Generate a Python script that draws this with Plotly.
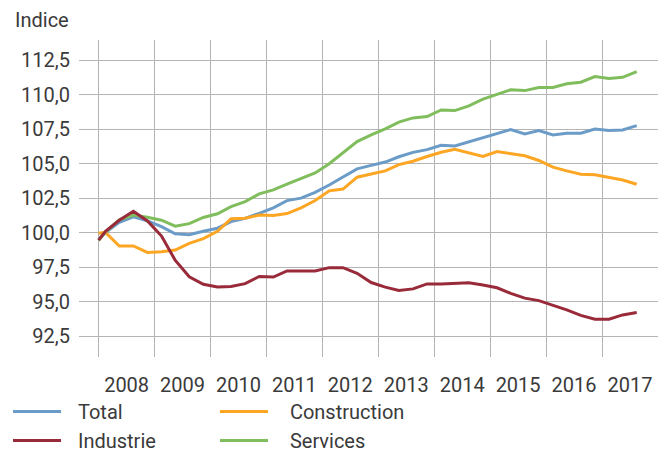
import plotly.graph_objects as go

# Quarterly observations (first value at start of 2008, then mid-quarter)
periods = ["2008-01-01"] + [f"{y}-{m:02d}-15" for y in range(2008, 2018) for m in (2, 5, 8, 11)][:39]

total = [99.5, 100.0, 100.75, 101.15, 100.85, 100.44, 99.92, 99.85, 100.1, 100.32,
         100.8, 101.04, 101.4, 101.8, 102.32, 102.5, 102.92, 103.45, 104.04, 104.62,
         104.88, 105.12, 105.5, 105.82, 106.02, 106.33, 106.29, 106.6, 106.92, 107.21,
         107.48, 107.16, 107.4, 107.09, 107.21, 107.21, 107.51, 107.4, 107.45, 107.76]
industrie = [99.45, 100.1, 100.9, 101.55, 100.85, 99.75, 98.0, 96.8, 96.25, 96.05,
             96.1, 96.3, 96.82, 96.78, 97.22, 97.22, 97.22, 97.46, 97.46, 97.05,
             96.38, 96.05, 95.8, 95.92, 96.28, 96.28, 96.3, 96.37, 96.2, 96.0,
             95.6, 95.25, 95.07, 94.75, 94.4, 94.0, 93.72, 93.72, 94.03, 94.2]
construction = [99.95, 100.02, 99.03, 99.03, 98.56, 98.61, 98.74, 99.22, 99.57, 100.1,
                101.0, 101.04, 101.28, 101.25, 101.38, 101.8, 102.33, 103.03, 103.16, 104.02,
                104.25, 104.48, 104.93, 105.18, 105.52, 105.83, 106.05, 105.76, 105.52, 105.88,
                105.71, 105.57, 105.23, 104.75, 104.48, 104.24, 104.19, 104.02, 103.82, 103.51]
services = [99.42, 100.05, 100.92, 101.28, 101.12, 100.9, 100.47, 100.65, 101.1, 101.37,
            101.89, 102.25, 102.81, 103.1, 103.52, 103.95, 104.33, 105.0, 105.82, 106.6,
            107.09, 107.53, 108.02, 108.32, 108.42, 108.9, 108.85, 109.19, 109.68, 110.05,
            110.36, 110.3, 110.53, 110.53, 110.79, 110.91, 111.32, 111.18, 111.26, 111.68]

y_ticks = [92.5, 95.0, 97.5, 100.0, 102.5, 105.0, 107.5, 110.0, 112.5]

FONT = "Roboto"
TXT = "#3a3a3a"
GRID = "#b4b4b4"
PAD1 = "\u00a0\u00a0\u200a"
PAD2 = "\u00a0\u00a0\u00a0\u200a"

fig = go.Figure()
series = [
    ("Total", total, "#6b9bc7", "legend", PAD1),
    ("Construction", construction, "#fca624", "legend2", PAD2),
    ("Services", services, "#80bd5c", "legend2", PAD2),
    ("Industrie", industrie, "#992a3a", "legend", PAD1),
]
for name, vals, col, lg, pad in series:
    fig.add_trace(go.Scatter(x=periods, y=vals, mode="lines", name=pad + name,
                             line=dict(color=col, width=3), legend=lg))

leg_common = dict(xref="container", yref="container", xanchor="left", yanchor="top",
                  orientation="v", itemwidth=48, tracegroupgap=0,
                  font=dict(size=20, color=TXT), bgcolor="rgba(0,0,0,0)")

# the page body adds an 8px offset, so the figure is 8px smaller than the window
fig.update_layout(
    width=660, height=444,
    margin=dict(l=71, r=10, t=32, b=95, autoexpand=False),
    paper_bgcolor="white", plot_bgcolor="white",
    separators=", ",
    font=dict(family=FONT, size=20, color=TXT),
    xaxis=dict(
        type="date",
        range=["2007-08-26", "2018-01-01"],
        tick0="2008-01-01", dtick="M12",
        ticklabelmode="period", tickformat="%Y", tickangle=0,
        showgrid=True, gridcolor=GRID, gridwidth=1,
        zeroline=False, showline=False, ticks="",
        ticklabelstandoff=14,
    ),
    yaxis=dict(
        range=[90.98, 113.97],
        tickmode="array", tickvals=y_ticks, tickformat=".1f",
        showgrid=True, gridcolor=GRID, gridwidth=1,
        zeroline=False, showline=False, ticks="",
        ticklabelstandoff=8,
    ),
    legend=dict(x=0.0, y=0.1352, **leg_common),
    legend2=dict(x=0.3136, y=0.1352, **leg_common),
    annotations=[dict(text="Indice", xref="paper", yref="paper", x=0, y=1,
                      xanchor="right", yanchor="bottom", xshift=-8, yshift=6,
                      showarrow=False, font=dict(size=20, color=TXT))],
)
fig.write_html("out.html")
